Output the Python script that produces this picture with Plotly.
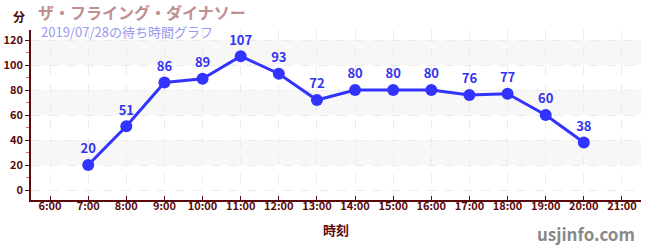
import plotly.graph_objects as go

hours = [7, 8, 9, 10, 11, 12, 13, 14, 15, 16, 17, 18, 19, 20]
waits = [20, 51, 86, 89, 107, 93, 72, 80, 80, 80, 76, 77, 60, 38]
tick_vals = list(range(6, 22))
tick_text = [f"{h}:00" for h in tick_vals]
y_ticks = [0, 20, 40, 60, 80, 100, 120]
bands = [(20, 40), (60, 80), (100, 120)]

font = "Noto Sans CJK JP"
axis_col = "#5a0a0a"

fig = go.Figure()
for lo, hi in bands:
    fig.add_hrect(y0=lo, y1=hi, fillcolor="#f7f7f7", line_width=0, layer="below")

fig.add_trace(go.Scatter(
    x=hours, y=waits, mode="lines+markers+text",
    line=dict(color="#3333ff", width=3),
    marker=dict(color="#3333ff", size=12),
    text=[str(v) for v in waits], textposition="top center",
    textfont=dict(color="#3333ee", size=13, family=font, weight="bold"),
    cliponaxis=False, hoverinfo="skip",
))

fig.update_layout(
    width=650, height=250, margin=dict(l=31, r=9, t=30, b=50, autoexpand=False),
    plot_bgcolor="white", paper_bgcolor="white", showlegend=False,
    font=dict(family=font, color=axis_col),
)
fig.update_xaxes(
    range=[5.5, 21.5], tickvals=tick_vals, ticktext=tick_text, automargin=False,
    showline=True, linecolor=axis_col, linewidth=1.5,
    ticks="inside", ticklen=4, tickcolor=axis_col, ticklabelstandoff=-5,
    tickfont=dict(size=11, color=axis_col, family=font, weight="bold"),
    showgrid=True, gridcolor="#ebebeb", griddash="dash", zeroline=False,
    title=dict(text="時刻", font=dict(size=13, color=axis_col, family=font, weight="bold"), standoff=14),
)
fig.update_yaxes(
    range=[-8, 128], tickvals=y_ticks, automargin=False,
    showline=True, linecolor=axis_col, linewidth=1.5,
    ticks="outside", ticklen=4, tickcolor=axis_col,
    tickfont=dict(size=11, color=axis_col, family=font, weight="bold"),
    showgrid=True, gridcolor="#ebebeb", griddash="dash", zeroline=False,
    minor=dict(tickvals=[10, 30, 50, 70, 90, 110], ticks="outside", ticklen=3,
               tickcolor="#e06060", showgrid=False),
)

fig.add_annotation(text="分", xref="paper", yref="paper", x=-0.032, y=1.0, yshift=14,
                   xanchor="left", yanchor="middle", showarrow=False,
                   font=dict(size=12, color="#4a0a0a", family=font, weight="bold"))
fig.add_annotation(text="ザ・フライング・ダイナソー", xref="paper", yref="paper", x=0.008, y=1.0, yshift=18,
                   xanchor="left", yanchor="middle", showarrow=False,
                   font=dict(size=16, color="#c09090", family=font, weight="bold"))
fig.add_annotation(text="2019/07/28の待ち時間グラフ", xref="paper", yref="paper", x=0.013, y=1.0, yshift=-1,
                   xanchor="left", yanchor="middle", showarrow=False,
                   font=dict(size=13, color="#9999ee", family=font))
fig.add_annotation(text="usjinfo.com", xref="paper", yref="paper", x=1.0, y=0, xshift=-4, yshift=-33,
                   xanchor="right", yanchor="middle", showarrow=False,
                   font=dict(size=17, color="#888888", family=font, weight="bold"))

fig.write_html("out.html")
